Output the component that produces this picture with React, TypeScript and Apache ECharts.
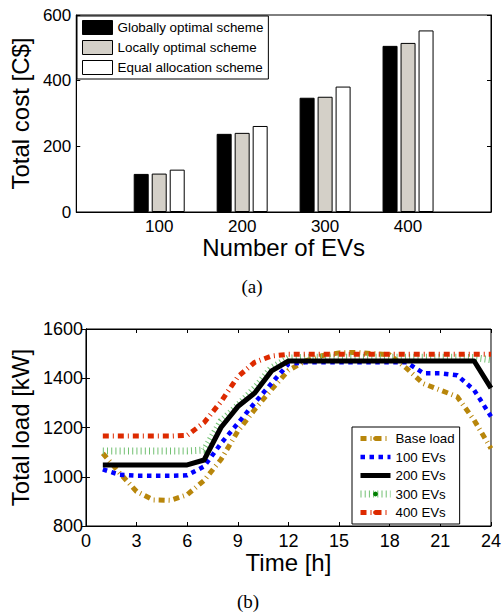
import React, { useEffect, useRef } from "react";
import * as echarts from "echarts";

// ---- Chart (a): total cost ----
const evCounts = [100, 200, 300, 400];
const globallyOptimal = [116, 238, 348, 506];
const locallyOptimal = [117, 241, 351, 515];
const equalAllocation = [129, 262, 382, 553];
const costTicks = [0, 200, 400, 600];

// ---- Chart (b): total load ----
const hours = [1, 2, 3, 4, 5, 6, 7, 8, 9, 10, 11, 12, 13, 14, 15, 16, 17, 18, 19, 20, 21, 22, 23, 24];
const baseLoad = [1095, 1015, 940, 906, 904, 927, 985, 1070, 1185, 1273, 1355, 1432, 1470, 1492, 1503, 1505, 1500, 1495, 1440, 1378, 1352, 1325, 1230, 1115];
const ev100 = [1030, 1008, 1004, 1004, 1004, 1006, 1042, 1135, 1217, 1300, 1380, 1458, 1465, 1465, 1465, 1465, 1465, 1465, 1465, 1420, 1420, 1412, 1352, 1245];
const ev200 = [1048, 1048, 1048, 1048, 1048, 1048, 1068, 1200, 1285, 1340, 1430, 1470, 1470, 1470, 1470, 1470, 1470, 1470, 1470, 1470, 1470, 1470, 1470, 1360];
const ev300 = [1105, 1105, 1105, 1105, 1105, 1105, 1108, 1225, 1290, 1360, 1442, 1482, 1485, 1485, 1485, 1485, 1485, 1485, 1485, 1485, 1485, 1485, 1484, 1475];
const ev400 = [1165, 1165, 1165, 1165, 1165, 1168, 1220, 1305, 1406, 1465, 1490, 1497, 1497, 1497, 1497, 1497, 1497, 1497, 1497, 1497, 1497, 1497, 1497, 1497];

const FONT = "Liberation Sans, Arial, sans-serif";
const SERIF = "Liberation Serif, Times New Roman, serif";

export default function App() {
  const ref = useRef<HTMLDivElement>(null);

  useEffect(() => {
    if (!ref.current) return;
    const chart = echarts.init(ref.current, null, { renderer: "svg" });

    const pairs = (vals: number[]) => hours.map((h, i) => [h, vals[i]]);
    const barPairs = (vals: number[]) => evCounts.map((c, i) => [c, vals[i]]);

    const barSeries = (name: string, vals: number[], color: string) => ({
      name,
      type: "bar",
      xAxisIndex: 0,
      yAxisIndex: 0,
      data: barPairs(vals),
      barWidth: 15,
      barGap: "20%",
      itemStyle: { color, borderColor: "#000", borderWidth: 1 },
    });

    const lineSeries = (
      name: string,
      vals: number[],
      color: string,
      width: number,
      type: any,
      dotColor: string,
      dotOpacity: number,
      z: number
    ) => ({
      name,
      type: "line",
      xAxisIndex: 1,
      yAxisIndex: 2,
      data: pairs(vals),
      showSymbol: false,
      symbol: "circle",
      z,
      lineStyle: { color, width, type, cap: "butt", join: "round" },
      itemStyle: { color: dotColor, opacity: dotOpacity },
    });

    const tickLabel = { color: "#000", fontSize: 17, fontFamily: FONT };
    const nameStyle = { color: "#000", fontSize: 24, fontFamily: FONT };
    const axisLine = { show: true, lineStyle: { color: "#000", width: 1 } };
    const inTick = { show: true, inside: true, length: 4, lineStyle: { color: "#000" } };
    const plain = (v: number) => String(v);

    chart.setOption({
      animation: false,
      textStyle: { fontFamily: FONT },
      grid: [
        { left: 74, top: 15, width: 417, height: 197, show: true, borderColor: "#000", borderWidth: 1, backgroundColor: "#fff" },
        { left: 83, top: 329, width: 410, height: 197, show: true, borderColor: "#000", borderWidth: 1, backgroundColor: "#fff" },
      ],
      xAxis: [
        {
          type: "value",
          gridIndex: 0,
          min: 0,
          max: 500,
          interval: 100,
          axisLine,
          axisTick: { show: false },
          splitLine: { show: false },
          axisLabel: {
            ...tickLabel,
            margin: 6,
            formatter: (v: number) => (evCounts.indexOf(v) >= 0 ? String(v) : ""),
          },
          name: "Number of EVs",
          nameLocation: "middle",
          nameGap: 16,
          nameTextStyle: nameStyle,
        },
        {
          type: "value",
          gridIndex: 1,
          min: 0,
          max: 24,
          interval: 3,
          axisLine,
          axisTick: inTick,
          splitLine: { show: false },
          axisLabel: { ...tickLabel, fontSize: 18, margin: 6, formatter: plain },
          name: "Time [h]",
          nameLocation: "middle",
          nameGap: 19,
          nameTextStyle: nameStyle,
        },
        {
          type: "value",
          gridIndex: 1,
          position: "top",
          min: 0,
          max: 24,
          interval: 3,
          axisLine,
          axisTick: inTick,
          splitLine: { show: false },
          axisLabel: { show: false },
        },
      ],
      yAxis: [
        {
          type: "value",
          gridIndex: 0,
          min: costTicks[0],
          max: costTicks[costTicks.length - 1],
          interval: 200,
          axisLine,
          axisTick: inTick,
          splitLine: { show: false },
          axisLabel: { ...tickLabel, margin: 5, formatter: plain },
          name: "Total cost [C$]",
          nameLocation: "middle",
          nameRotate: 90,
          nameGap: 37,
          nameTextStyle: nameStyle,
        },
        {
          type: "value",
          gridIndex: 0,
          position: "right",
          min: 0,
          max: 600,
          interval: 200,
          axisLine,
          axisTick: inTick,
          splitLine: { show: false },
          axisLabel: { show: false },
        },
        {
          type: "value",
          gridIndex: 1,
          min: 800,
          max: 1600,
          interval: 200,
          axisLine,
          axisTick: inTick,
          splitLine: { show: false },
          axisLabel: { ...tickLabel, fontSize: 18, margin: 3, formatter: plain },
          name: "Total load [kW]",
          nameLocation: "middle",
          nameRotate: 90,
          nameGap: 46,
          nameTextStyle: nameStyle,
        },
        {
          type: "value",
          gridIndex: 1,
          position: "right",
          min: 800,
          max: 1600,
          interval: 200,
          axisLine,
          axisTick: inTick,
          splitLine: { show: false },
          axisLabel: { show: false },
        },
      ],
      legend: [
        {
          data: ["Globally optimal scheme", "Locally optimal scheme", "Equal allocation scheme"],
          orient: "vertical",
          left: 77,
          top: 16,
          padding: [4, 5, 4, 5],
          itemWidth: 30,
          itemHeight: 14,
          itemGap: 5,
          backgroundColor: "#fff",
          borderColor: "#000",
          borderWidth: 1,
          borderRadius: 0,
          selectedMode: false,
          icon: "rect",
          itemStyle: { borderWidth: 1, borderColor: "#000" },
          textStyle: { color: "#000", fontSize: 13.4, fontFamily: FONT },
        },
        {
          data: ["Base load", "100 EVs", "200 EVs", "300 EVs", "400 EVs"],
          orient: "vertical",
          left: 352,
          top: 427,
          padding: [5, 5, 5, 5],
          itemWidth: 30,
          itemHeight: 6,
          itemGap: 5.5,
          backgroundColor: "#fff",
          borderColor: "#000",
          borderWidth: 1,
          borderRadius: 0,
          selectedMode: false,
          itemStyle: { borderWidth: 0 },
          lineStyle: { width: "inherit" },
          textStyle: { color: "#000", fontSize: 13.3, fontFamily: FONT },
        },
      ],
      series: [
        barSeries("Globally optimal scheme", globallyOptimal, "#000000"),
        barSeries("Locally optimal scheme", locallyOptimal, "#d4d0c8"),
        barSeries("Equal allocation scheme", equalAllocation, "#ffffff"),
        lineSeries("Base load", baseLoad, "#b8860b", 5, [6, 4, 1, 4], "#b8860b", 1, 2),
        lineSeries("100 EVs", ev100, "#0000ff", 4.5, [4.5, 4.5], "#0000ff", 0, 3),
        lineSeries("300 EVs", ev300, "#72c072", 7, [1, 3.2], "#007f00", 1, 4),
        lineSeries("400 EVs", ev400, "#dd2a00", 5, [6, 4, 1, 4], "#dd2a00", 1, 5),
        lineSeries("200 EVs", ev200, "#000000", 5, "solid", "#000000", 0, 6),
      ],
      graphic: [
        {
          type: "text",
          x: 252,
          y: 286,
          style: { text: "(a)", fontSize: 19, fontFamily: SERIF, fill: "#000", align: "center", verticalAlign: "middle" },
        },
        {
          type: "text",
          x: 248,
          y: 601,
          style: { text: "(b)", fontSize: 19, fontFamily: SERIF, fill: "#000", align: "center", verticalAlign: "middle" },
        },
      ],
    });

    return () => chart.dispose();
  }, []);

  return (
    <div
      ref={ref}
      style={{ position: "fixed", left: 0, top: 0, width: 504, height: 614, background: "#fff" }}
    />
  );
}
